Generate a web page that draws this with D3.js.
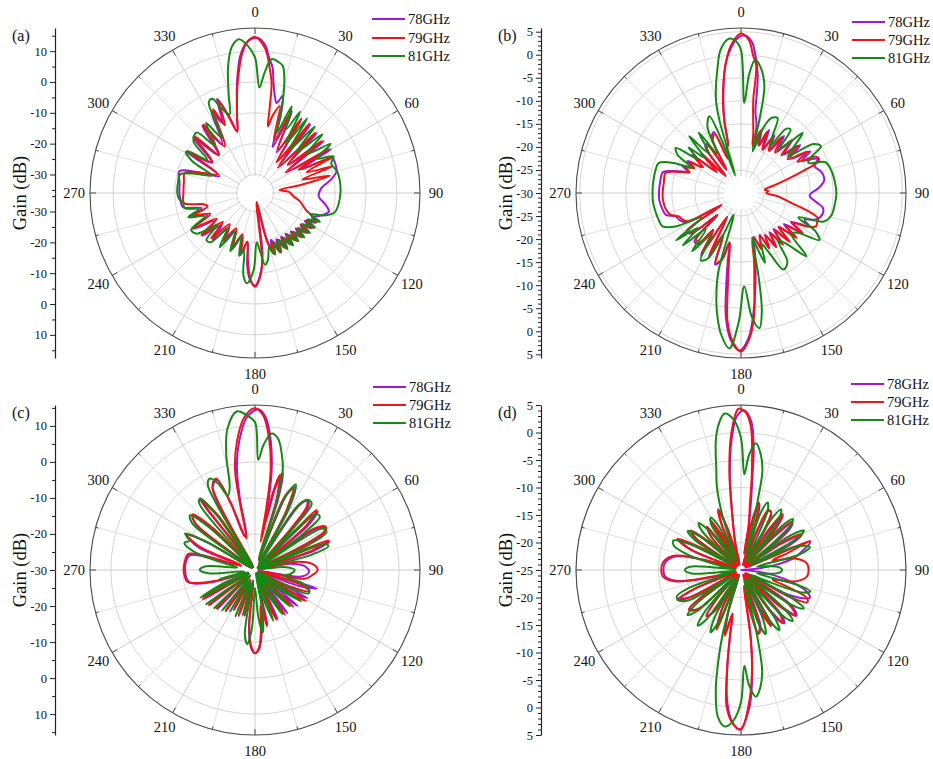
<!DOCTYPE html>
<html>
<head>
<meta charset="utf-8">
<script src="https://cdn.jsdelivr.net/npm/d3@7"></script>
<style>
  body { margin: 0; background: #fff; }
  text { font-family: "Liberation Serif", "Times New Roman", serif; fill: #111; }
</style>
</head>
<body>
<svg id="chart" width="933" height="759"></svg>
<script>
// series names and colours
const seriesNames = ['78GHz', '79GHz', '81GHz'];
const seriesColors = ['#9a1ad6', '#f01414', '#148a14'];
const angleTicks = d3.range(0, 360, 30);

// ---- (a) gain patterns, [angle deg, gain dB] ----
const a78 = [[1,14.3],[4,12],[6,8],[8,5],[9.5,0.3],[11.9,-4.4],[13.5,-6],[16,-3.2],[18.5,-10],[21,-20],[24.5,-7],[28,-21],[32,-7.5],[35.5,-23],[39,-7.5],[42.5,-24],[46,-8],[49.5,-22],[53,-8],[56.5,-23],[60,-7.5],[63,-19],[66,-8.5],[70,-8.3],[75,-8.6],[80,-11],[86,-14.5],[93,-15.3],[99,-13],[104,-11.3],[109,-13.5],[113,-16],[116,-14],[119,-17.5],[122,-14.5],[125,-18],[128,-15],[131,-18.5],[134,-15.5],[137,-19],[140,-16],[143,-19.5],[146,-16],[149,-19.5],[152,-16],[155,-19.5],[158,-16],[161,-20],[164,-16.5],[167,-24],[170,-33],[173,-16],[176,-10],[180,-5.9],[183,-7.5],[186,-12],[189,-20],[193,-15.5],[197,-21],[202,-16.5],[207,-22],[212,-17],[217,-22],[222,-15.5],[226,-21],[231,-14],[235,-20],[240,-12.8],[245,-19],[250,-14],[254,-18],[259,-12.2],[265,-11.7],[270,-11.5],[278,-11.3],[286,-10.5],[290,-16],[295.5,-23.3],[301,-10.3],[305,-19],[312,-9],[316,-19],[322,-8.3],[326,-17],[332,-6],[335,-11],[338,-3.1],[341,-9],[344,-15],[347,-10],[351,1],[354,9],[357,13]];
const a79 = [[0,14.6],[4,11],[7,4],[8.6,0],[9.8,-8],[11,-14],[13,-10],[16,-6.7],[20,-18],[24,-6.9],[28,-20],[32,-7.5],[35,-24],[38,-7.3],[42,-25],[45,-8.3],[49,-22],[52,-8.5],[56,-24],[59,-8],[62,-20],[65,-8.2],[68,-18],[71,-9.5],[74,-20],[77,-11],[80,-21],[83,-28],[88,-25],[95,-23.4],[101,-21],[108,-18.8],[112,-16],[115,-14],[118,-17],[121,-14],[124,-18],[127,-14.5],[130,-18],[133,-15],[136,-18.5],[139,-15.5],[142,-19],[145,-15.5],[148,-19],[151,-15.5],[154,-19],[157,-15],[160,-19],[163,-15.5],[166,-20],[170,-33],[174,-14],[177,-8],[180,-5.6],[183,-8],[186,-14],[189,-20],[192.5,-16],[197,-22],[202,-17],[208,-23],[214,-17.6],[219,-23],[224,-15.6],[228,-22],[232,-13.9],[236,-21],[240.4,-12.8],[245,-20],[250,-15],[254,-20],[257.6,-19],[262,-12.7],[270,-12.8],[280,-12.6],[286,-12.3],[291,-18],[296.6,-22.5],[302,-10.3],[306,-19],[313,-9],[317,-19],[323,-8.1],[327,-18],[333.4,-5.6],[336,-12],[338.5,-4],[341,-10],[343.8,-15.3],[347,-10],[351,0],[355,10],[357.5,13.5]];
const a81 = [[0,8],[2.4,-1.8],[4.5,3],[7,7.7],[10,7.2],[12.3,6.2],[14.5,2],[16.3,-3.2],[18.3,-11],[20,-15.2],[23,-5.5],[26,-13],[29,-5.8],[32,-17],[35,-6.5],[38.5,-18],[42,-7],[45.5,-17],[49,-7],[53,-15],[57,-6.7],[61,-13],[65,-7.9],[69,-9.5],[75,-8.5],[82,-8.2],[90,-8.3],[98,-8.7],[104,-9.5],[108,-12.5],[111,-17],[114,-13],[117,-17],[120,-13.5],[123,-17.5],[126,-14],[129,-18],[132,-14.5],[135,-18],[138,-15],[141,-18.5],[144,-15],[147,-18.5],[150,-15],[153,-19],[156,-15],[159,-19],[162,-15],[165,-18],[169,-14],[172,-12.5],[175,-17],[178,-20],[181,-11],[185,-6.6],[188,-9],[191,-17],[194,-15],[198,-21],[203,-15.5],[208,-22],[213,-15],[218,-21],[222,-14.5],[226,-14.1],[230,-20],[235,-13],[240,-12.1],[245,-18],[250,-13],[254,-17],[258,-12.6],[262,-12.5],[266,-11.2],[270,-10.8],[278,-10.8],[284,-11],[288,-16],[292,-21],[297,-13],[301,-9.9],[305,-17],[310,-10],[316,-8.7],[320,-16],[325,-8.3],[329,-15],[333,-3],[335.7,-2.5],[338,-6],[342,-9.2],[345,-3],[348,6],[351,12],[354,14.1],[357,12]];

// ---- (b) ----
const b78 = [[1.2,4.2],[4,3],[6,0],[8,-4],[9,-8],[10,-12],[13,-15],[15,-19],[18,-15.5],[21,-19],[24,-15],[27,-19.5],[30,-15.5],[34,-19],[37,-14.5],[41,-18],[44,-14],[48,-17.5],[51,-13.5],[55,-17],[59,-12.5],[62,-15],[66,-11.8],[70,-13],[75,-12],[81,-11.7],[86,-13],[92,-15.1],[97,-13.5],[100,-12],[104,-11.7],[109,-12.5],[113,-15],[116,-13.5],[120,-17.5],[123,-14.5],[126,-18.5],[129,-15],[132,-19],[135,-15.5],[138,-19.5],[141,-16],[144,-19.5],[147,-16],[150,-19.5],[153,-16.5],[156,-20],[160,-17.5],[164,-20],[166,-18],[168,-15],[171,-10],[174,-4],[177,1.5],[180.5,4.2],[184,2],[187,-3],[189,-9.5],[191,-15],[193,-19],[196,-15],[200,-13.5],[203,-20],[207,-14.5],[210,-24],[213,-14],[217,-20],[220,-15.5],[224,-15.5],[227,-23],[231,-16],[235,-15.5],[238,-25],[242,-16.5],[246,-15.5],[250,-15],[254,-13],[260,-12.5],[265,-12.2],[270,-12.2],[278,-12.3],[285,-12.5],[289,-15.5],[292,-17.5],[295,-16],[298,-18],[301,-16.5],[304,-20],[308,-16.5],[311,-23],[315,-17.5],[318,-25],[322,-17.5],[325,-17],[328,-24],[332,-16.5],[336,-15.5],[339,-22],[342,-20],[345,-19],[347,-14],[349.5,-9],[353,-2],[356,1.5],[358.5,3.5]];
const b79 = [[0,4.6],[3,3.2],[5,0],[6.8,-2.2],[7.5,-9.6],[9.5,-14],[11.6,-16.7],[14,-19.5],[17,-16],[20,-19],[23,-15.5],[26,-19.5],[29.6,-16],[33,-19],[36,-15],[40,-18.5],[44,-14.5],[47,-18],[50,-14],[54,-17.5],[58,-13],[61,-16],[64,-12],[66,-11.5],[68,-12],[70,-15],[73,-19],[77,-22.5],[82,-24.8],[86,-24],[90,-24.5],[95,-22],[101,-19],[105,-15],[108,-12.5],[111,-12.3],[114,-12.2],[117,-14],[120,-17],[123,-14],[126,-18],[129,-14.5],[132,-19],[135,-15],[138,-19],[141,-15.5],[144,-19],[147,-16],[150,-19.5],[153,-16.5],[156,-20],[160,-17],[164,-20],[167,-19],[169,-15.2],[171.9,-9.5],[174,-3],[177,2],[180,4.4],[183,2.5],[186,-2],[188,-9.5],[190,-15],[193,-19],[196,-15],[199.7,-13.8],[203,-20],[207,-15],[210,-24],[213,-14.5],[217,-20],[220,-16],[224,-16],[227,-23],[231,-16.5],[235,-16],[238,-25],[242,-17],[246,-16],[249,-15.7],[253,-14],[258,-13.3],[265,-13],[270,-13],[278,-13.1],[285,-13.1],[289,-16],[292,-18],[295,-16.5],[298,-18.5],[301,-17],[304,-20],[308,-17],[311,-23],[315,-18],[318,-25],[322,-18],[325,-17.5],[328,-24],[332,-17],[336,-16],[339,-22],[342,-20],[345,-19],[347,-14],[349,-9.4],[353,-2.2],[356,2]];
const b81 = [[0,1],[2.1,-10.4],[4,-4],[6.1,-0.9],[9,-2.5],[12.3,-6.2],[14,-13],[15.6,-20.6],[19,-15],[22,-12.5],[26,-11.9],[29,-16],[32,-18],[35,-13],[38,-12.5],[41,-17],[43,-16],[45.8,-11.3],[49,-15],[52,-17],[56,-11],[59.7,-9.9],[63,-13],[66,-14],[70,-10.5],[76,-9.8],[83,-9.5],[90,-9.3],[97,-9.5],[104,-9.8],[109,-11],[113,-16.5],[117,-12],[121,-10.2],[125,-15],[129,-16],[134,-10.3],[138,-15],[142,-17],[146,-12],[151,-11],[155,-16],[158,-18],[161,-14],[164,-18],[166,-20],[168,-12],[170,-4],[172.3,-0.4],[175,-3],[178,-9.7],[181,-2],[184.3,3.8],[188,1],[191,-3],[193,-6.2],[196,-12],[199,-25],[203,-20],[207,-14],[211,-13],[215,-19],[220,-13.5],[224,-19],[228,-13],[231,-18],[234,-12.6],[238,-20],[243,-14],[247,-11.5],[252,-11.2],[258,-11],[264,-10.8],[270,-10.8],[277,-10.8],[284,-10.8],[290,-11],[294,-14],[297,-18],[301,-14],[304.7,-12.8],[308,-18],[311,-15],[314,-19],[317.6,-13.3],[321,-19],[325,-14],[329,-20],[333,-14],[337.6,-12],[340,-18],[341.5,-26],[343.5,-13.4],[345,-9],[349.6,-2],[352,1.5],[355.7,3.6],[358,3]];

// ---- (c) ----
const c78 = [[1.2,14.6],[4,12.5],[7,6],[9.5,-2],[11,-10],[12.5,-16],[14,-6],[16,-2],[18,-9],[20,-27],[23,-7],[26,-4.5],[29,-11],[31.5,-28],[34.5,-8],[37.5,-5.8],[40,-7],[42,-15],[44,-29],[47,-6.2],[50,-11],[53,-28],[56,-9.5],[59.5,-7.2],[62,-8.5],[64,-15],[66,-29],[69,-7.8],[72,-13],[75,-29],[80,-20],[86,-16],[92,-15],[98,-17],[102,-29],[106.6,-12.1],[110,-17],[114,-28],[118,-13.5],[122,-19],[126,-28],[130,-14.5],[134,-21],[138,-29],[143,-15],[147,-22],[151,-29],[155,-15],[159,-22],[163,-29],[167,-14.5],[170,-20],[173,-14],[177,-8],[180,-6.9],[183,-8.5],[186,-14],[189,-27],[192.5,-17],[196,-25],[199.5,-16.5],[203.5,-27],[207.5,-17.5],[211.5,-25],[215.5,-16],[219.5,-28],[224,-15],[228.5,-26],[232.5,-14],[236.5,-28],[240.5,-13.5],[244.5,-21],[249,-28],[254,-18],[259,-11.5],[264,-10.8],[270,-10.6],[277,-10.7],[283,-11.5],[287,-26],[292,-13],[297,-8.8],[300,-14],[303.5,-29],[307.5,-9.5],[311,-7],[314.5,-14],[317.5,-29],[322,-5.5],[325.5,-12],[328.5,-29],[332.5,-4.5],[337,-2.8],[340,-10],[343,-20],[345.5,-20],[348,-10],[350,-1],[353,6],[357,12.5]];
const c79 = [[0,14.9],[3,13],[6,7],[8.9,-1.9],[10.3,-12],[11.5,-22],[13,-8],[14.7,-2.7],[17,-10],[19,-27],[22,-8],[25,-4.9],[28,-12],[30.5,-28],[33.5,-9],[36.5,-6],[39,-7],[41,-15],[43,-29],[45.8,-6.1],[49,-11],[52,-28],[55,-10],[58.5,-7],[61,-8],[63,-15],[65,-29],[67.8,-8],[71,-13],[74,-29],[79,-18],[84,-14],[90,-12.6],[95,-14],[100,-16],[104,-29],[108,-16],[111.5,-13.8],[115,-19],[118,-28],[121,-13.4],[125,-19],[129,-28],[133.7,-15.3],[137,-22],[141,-29],[146,-15],[150,-22],[153,-29],[156.6,-14.9],[160,-22],[164,-29],[168,-14],[171,-20],[174,-14],[177,-8.5],[180,-6.9],[183,-9],[186,-15],[189,-27],[193,-17],[196,-25],[200,-16.5],[204,-27],[208,-17.4],[212,-25],[216,-16],[220,-28],[225,-14.9],[229,-26],[233,-14],[237,-28],[241,-13.4],[245,-21],[250,-28],[255,-18],[260,-11],[265,-10.4],[270,-10.2],[277,-10.4],[283.7,-11],[288,-26],[293,-13],[297.6,-8.5],[300,-14],[304,-29],[308,-9],[311.8,-6.8],[315,-14],[318,-29],[322.5,-5.3],[326,-12],[329,-29],[333,-4],[337,-2.4],[340,-10],[343,-20],[345,-20.9],[347.3,-11],[348.7,-1.7],[352,6],[356,12.5]];
const c81 = [[0,11],[1.7,0.6],[4,5],[7,8.2],[10,7],[13,3],[15.5,-1.2],[17.5,-10],[19.5,-27],[22.5,-8],[25.5,-3.7],[28.5,-11],[31,-28],[34,-8],[37,-5.6],[40.4,-5.7],[42.5,-14],[44.5,-29],[47.5,-7],[50.6,-6.7],[53,-13],[55.5,-29],[58.5,-8],[62,-7.5],[65,-14],[67.5,-29],[70,-9],[72,-8.6],[75,-14],[78,-29],[84,-22],[90,-19],[96,-20],[101,-22],[106,-16],[110,-14],[113.6,-13.8],[117,-20],[120,-29],[124,-14.5],[128,-21],[131,-29],[136,-16],[140,-22],[144,-29],[148,-15.5],[152,-22],[156,-29],[160,-15],[164,-22],[167,-29],[170,-18],[173,-12.5],[176,-17],[180,-25],[183,-14],[186,-9.3],[189,-12],[192,-27],[195,-17],[199,-26],[203,-16],[207,-27],[211,-16.5],[215,-26],[219,-15.5],[223,-28],[227,-14.5],[231,-27],[235,-13.5],[239,-28],[243,-13],[247,-20],[251,-28],[256,-20],[262,-27],[266,-17],[270,-14.7],[274,-16],[278,-25],[283,-20],[287,-12],[291,-9],[294,-10],[297.6,-8.1],[300,-14],[303,-29],[306.5,-8.5],[310,-6.4],[313,-13],[316.5,-29],[320,-6],[322.5,-5],[325,-11],[328,-29],[331,-3],[333.8,-1.7],[337,-4],[340,-8],[343,-6],[346,3],[349,10],[353.4,14.3],[357,13]];

// ---- (d) ----
const d78 = [[1.2,4],[4,2],[6,-3],[7,-8],[8.5,-13],[10,-17],[11.5,-22],[13,-16],[15.5,-12.5],[18,-16],[20,-24],[23,-16.5],[25.5,-13],[28.5,-13.5],[31,-17],[33,-24],[35.5,-16],[37.5,-12.5],[40,-15],[42.5,-24],[45,-16],[47.5,-12.3],[50,-13.5],[52,-17],[54,-24],[57,-16],[60,-12.3],[63,-15],[65,-24],[68,-11.4],[72,-13],[77,-15],[82,-19],[86,-23],[90,-25],[94,-23],[99,-19],[104,-15],[108,-12.5],[112,-11.5],[115,-13],[118,-16],[121,-24],[125,-14],[129,-12],[132,-15],[135,-24],[138,-14],[141,-12.5],[144,-16],[147,-24],[150.5,-13.5],[154,-17],[157,-24],[161,-14],[164.5,-13],[167,-18],[169.5,-22],[171.5,-14],[173.5,-7],[176.5,0],[180.5,4],[183.5,2.5],[186,-1],[188,-7],[189.5,-13],[191,-17],[194,-13],[197,-17],[200,-24],[202.5,-13.5],[206,-17],[209,-24],[213,-16],[217,-14.5],[220,-18],[223,-24],[227,-15],[230,-13.7],[233,-13.3],[236,-17],[239,-24],[242,-14.5],[245,-12.8],[248,-16],[252,-24],[256,-20],[260,-13.5],[265,-11.2],[270,-10.9],[276,-11.2],[282,-13],[286,-20],[289,-24],[292,-15.5],[296,-12.4],[299,-17],[302,-24],[305,-15],[308,-13.5],[311,-17],[314,-24],[318,-17],[322,-15],[325,-24],[328.5,-14.5],[331,-18],[334,-24],[337,-16],[339.5,-13.2],[342,-17],[345,-24],[348,-20],[351,-15],[353.5,-7],[356,-1],[358.5,3]];
const d79 = [[0,4.3],[2,3.5],[4,1],[6.3,-6.9],[7.7,-12.9],[9.7,-16.8],[11,-22],[12.5,-16],[14.8,-12.3],[17,-16],[19,-24],[22,-17],[24.5,-13],[27.5,-13.2],[30,-17],[32,-24],[34.5,-16],[36.5,-12.3],[39,-15],[41.5,-24],[44,-16],[46.5,-12.2],[48.5,-13],[51,-17],[53,-24],[56,-16],[59.4,-12.1],[62,-15],[64,-24],[66.9,-11.3],[70,-16],[73,-19],[78,-15],[84,-13],[90,-12.7],[96,-13],[102,-15],[107,-19],[110,-16],[113,-12],[116,-11.6],[119,-15],[122,-24],[126,-14],[130,-12],[133,-15],[136,-24],[139,-14],[142,-12.8],[145,-16],[148,-24],[151.8,-13.4],[155,-17],[158,-24],[162,-14],[165,-13],[168,-18],[170,-22],[172,-12],[174,-6],[177,0],[180,4],[183,3],[186,0],[188,-6.9],[189.5,-12.9],[191,-16.8],[193.8,-12.7],[197,-17],[200,-24],[202,-13.3],[206,-17],[209,-24],[213,-16],[216.6,-14.6],[220,-18],[223,-24],[227,-15],[230,-13.5],[233,-13.1],[236,-17],[239,-24],[242,-14],[245,-12.2],[248,-16],[252,-24],[257,-20],[260,-13],[265,-10.8],[270,-10.5],[276,-10.8],[282,-12.5],[286,-20],[289,-24],[292,-15],[296,-12.1],[299,-17],[302,-24],[305,-15],[308,-13.3],[311,-17],[314,-24],[318,-17],[322,-15],[325,-24],[328.5,-14.8],[331,-18],[334,-24],[337,-16],[339,-13.4],[342,-17],[345,-24],[348,-20],[350.5,-15.9],[353.3,-6.9],[356,0],[359,4.3]];
const d81 = [[0,-1],[2,-7.6],[4,-4],[6.7,-1.8],[9.5,-3.5],[12.2,-6.6],[13.5,-12],[15,-17],[17,-22],[19,-14],[21.5,-11.8],[24,-13],[26,-18],[28,-23],[31,-14],[33.5,-11.8],[36,-13],[38,-18],[40,-23],[43,-14],[45.5,-11.8],[48,-13],[50,-18],[52,-23],[55,-14],[58,-11.5],[61,-14],[63,-23],[67,-14],[71.6,-11.8],[75,-14],[78,-22],[82,-20],[86,-18],[90,-17.5],[94,-18],[98,-20],[102,-22],[105,-14],[107,-11.8],[110,-13],[113,-19],[116,-23],[119,-14],[121.5,-11.6],[124,-13],[127,-19],[129,-23],[132,-14],[134.5,-11.8],[137,-13],[140,-19],[142,-23],[145,-14],[147.5,-12],[150,-14],[153,-23],[156,-15],[159,-12.5],[162,-15],[164,-23],[166,-14],[168,-6.6],[170.5,-3.5],[173.3,-1.8],[176,-4],[178,-7.6],[180,-1],[183,2.5],[186,3.6],[189,2],[192,-3],[194,-8],[196,-13],[198,-20],[200,-24],[203,-15],[206,-12.4],[209,-15],[212,-23],[215,-14],[218,-12.2],[221,-15],[224,-23],[227,-14],[230,-12.3],[233,-15],[236,-23],[240,-14],[244,-12.4],[247.7,-12.4],[251,-15],[254,-23],[258,-21],[262,-24],[266,-16],[270,-14.8],[274,-16],[278,-24],[282,-21],[286,-15],[290,-12],[293.7,-11.6],[297,-15],[300,-23],[303,-15],[306,-13],[309,-15],[312,-23],[315,-15],[318,-13.5],[321,-16],[324,-23],[327,-15],[330,-14],[333,-16],[336,-23],[339,-20],[341.6,-13.6],[344,-9],[346,-6.5],[349,-1],[351.5,2],[354,3.6],[357,2.5]];

// radial axis values per panel
const aDomain = [-36, 17.5], aMajor = [-30, -20, -10, 0, 10], aMinor = [-35, -25, -15, -5, 5, 15];
const bDomain = [-30, 5.8],  bMajor = [-30, -25, -20, -15, -10, -5, 0, 5];
const cDomain = [-30, 15.8], cMajor = [-30, -20, -10, 0, 10], cMinor = [-25, -15, -5, 5, 15];
const dDomain = [-25, 5],    dMajor = [-25, -20, -15, -10, -5, 0, 5];
const bMinor = d3.range(-29, 6).filter(v => v % 5 !== 0);
const dMinor = d3.range(-24, 5).filter(v => v % 5 !== 0);

const R = 165;
const panels = [
  {label: '(a)', cx: 255, cy: 193, domain: aDomain, major: aMajor, minor: aMinor, data: [a78, a79, a81], legX: 372, legY: [19, 38, 56]},
  {label: '(b)', cx: 741, cy: 193, domain: bDomain, major: bMajor, minor: bMinor, data: [b78, b79, b81], legX: 852, legY: [22, 40, 58]},
  {label: '(c)', cx: 255, cy: 570, domain: cDomain, major: cMajor, minor: cMinor, data: [c78, c79, c81], legX: 373, legY: [387, 405, 423]},
  {label: '(d)', cx: 741, cy: 570, domain: dDomain, major: dMajor, minor: dMinor, data: [d78, d79, d81], legX: 851, legY: [384, 402, 420]}
];

const svg = d3.select('#chart');
const rad = d => d * Math.PI / 180;

panels.forEach(p => {
  const r = d3.scaleLinear().domain(p.domain).range([0, R]).clamp(true);
  const g = svg.append('g').attr('transform', `translate(${p.cx},${p.cy})`);

  // grid rings at the major ticks above the centre value
  g.selectAll('circle.ring')
    .data(p.major.filter(v => v > p.domain[0]))
    .join('circle')
    .attr('r', d => r(d))
    .attr('fill', 'none')
    .attr('stroke', '#d6d6d6')
    .attr('stroke-width', 1);

  // spokes
  g.selectAll('line.spoke')
    .data(d3.range(0, 360, 15))
    .join('line')
    .attr('x1', d => 17 * Math.sin(rad(d)))
    .attr('y1', d => -17 * Math.cos(rad(d)))
    .attr('x2', d => R * Math.sin(rad(d)))
    .attr('y2', d => -R * Math.cos(rad(d)))
    .attr('stroke', d => d % 30 === 0 ? '#cfcfcf' : '#e0e0e0')
    .attr('stroke-width', 1);

  // outer ring and its ticks
  g.append('circle').attr('r', R).attr('fill', 'none').attr('stroke', '#4a4a4a').attr('stroke-width', 1.1);
  g.selectAll('line.otick')
    .data(d3.range(0, 360, 15))
    .join('line')
    .attr('x1', d => R * Math.sin(rad(d)))
    .attr('y1', d => -R * Math.cos(rad(d)))
    .attr('x2', d => (R - (d % 30 === 0 ? 6 : 3)) * Math.sin(rad(d)))
    .attr('y2', d => -(R - (d % 30 === 0 ? 6 : 3)) * Math.cos(rad(d)))
    .attr('stroke', '#4a4a4a');

  // angle labels
  g.selectAll('text.ang')
    .data(angleTicks)
    .join('text')
    .attr('x', d => (R + 16) * Math.sin(rad(d)))
    .attr('y', d => -(R + 16) * Math.cos(rad(d)))
    .attr('text-anchor', 'middle')
    .attr('dominant-baseline', 'central')
    .attr('font-size', 14.5)
    .text(d => d);

  // pattern curves
  const line = d3.lineRadial()
    .angle(d => rad(d[0]))
    .radius(d => r(d[1]))
    .curve(d3.curveCatmullRomClosed.alpha(0.5));

  p.data.forEach((ser, i) => {
    g.append('path')
      .datum(ser)
      .attr('d', line)
      .attr('fill', 'none')
      .attr('stroke', seriesColors[i])
      .attr('stroke-width', 2)
      .attr('stroke-linejoin', 'round');
  });

  // radial axis on the left, mirrored around the centre
  const ax = p.cx - 200;
  const yTop = d3.scaleLinear().domain(p.domain).range([p.cy, p.cy - R]);
  const yBot = d3.scaleLinear().domain(p.domain).range([p.cy, p.cy + R]);
  const fmt = d => String(d);

  [[yTop, p.major], [yBot, p.major.filter(v => v > p.domain[0])]].forEach(([y, vals]) => {
    const a = svg.append('g').attr('transform', `translate(${ax},0)`)
      .call(d3.axisLeft(y).tickValues(vals).tickFormat(fmt).tickSize(5).tickSizeOuter(0).tickPadding(3));
    a.attr('font-family', null).attr('font-size', 12.5);
    a.select('.domain').attr('stroke', '#222').attr('stroke-width', 1.2);
    a.selectAll('.tick line').attr('stroke', '#222');
    const m = svg.append('g').attr('transform', `translate(${ax},0)`)
      .call(d3.axisLeft(y).tickValues(p.minor.filter(v => v > p.domain[0] && v <= p.domain[1])).tickFormat('').tickSize(3).tickSizeOuter(0));
    m.select('.domain').remove();
    m.selectAll('.tick line').attr('stroke', '#222');
  });

  svg.append('text')
    .attr('transform', `translate(${p.cx - 235},${p.cy}) rotate(-90)`)
    .attr('text-anchor', 'middle')
    .attr('dominant-baseline', 'central')
    .attr('font-size', 18.5)
    .text('Gain (dB)');

  svg.append('text')
    .attr('x', p.cx - 243)
    .attr('y', p.cy - 152)
    .attr('font-size', 16)
    .text(p.label);

  // legend
  seriesNames.forEach((name, i) => {
    svg.append('line')
      .attr('x1', p.legX).attr('x2', p.legX + 33)
      .attr('y1', p.legY[i]).attr('y2', p.legY[i])
      .attr('stroke', seriesColors[i]).attr('stroke-width', 2);
    svg.append('text')
      .attr('x', p.legX + 36)
      .attr('y', p.legY[i])
      .attr('dominant-baseline', 'central')
      .attr('font-size', 14.5)
      .text(name);
  });
});
</script>
</body>
</html>
